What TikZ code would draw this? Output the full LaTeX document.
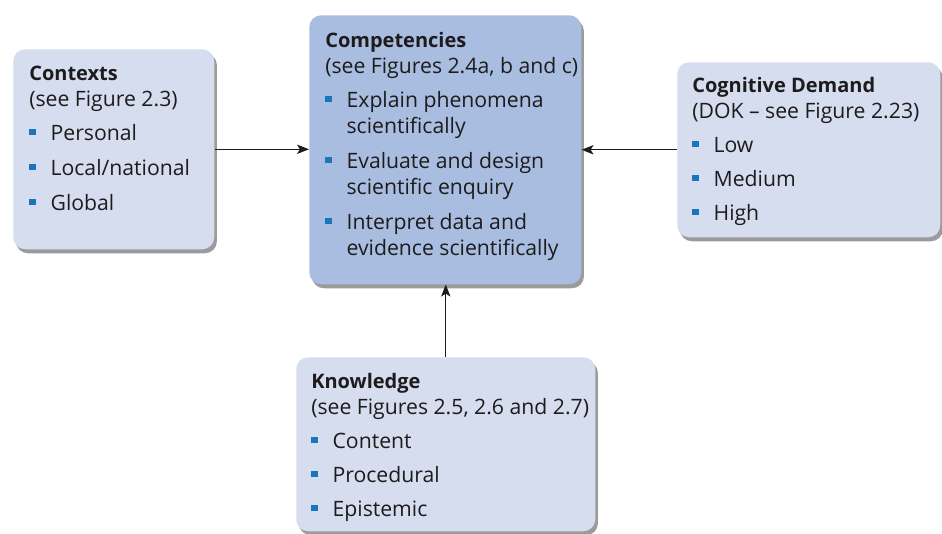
\documentclass[tikz,border=0pt]{standalone}
\usepackage{fontspec}
\setmainfont{Open Sans}
\usepackage{xcolor}
\usetikzlibrary{arrows.meta, positioning, shadows}
\definecolor{palefill}{HTML}{D5DDEF}
\definecolor{deepfill}{HTML}{A9BDE0}
\definecolor{bulletblue}{HTML}{1C75BC}
\definecolor{inkgrey}{HTML}{1E1B1C}
\newcommand{\bsq}{\textcolor{bulletblue}{\rule[3.4pt]{4.8pt}{4.8pt}}}
\newcommand{\point}{\makebox[16pt][l]{\bsq}&}
\newcommand{\heading}[2]{\multicolumn{2}{@{}l@{}}{\fontsize{15}{19.5}\selectfont\textbf{#1}}\\
    \multicolumn{2}{@{}l@{}}{#2}\\[6pt]}
\tikzset{
    panel/.style = {rounded corners=9pt, inner sep=0pt, draw=none,
        anchor=north west,
        drop shadow={shadow xshift=2pt, shadow yshift=-3pt,
            fill=black!65, opacity=0.6}},
    pale_panel/.style = {panel, fill=palefill},
    deep_panel/.style = {panel, fill=deepfill},
    blurb/.style = {anchor=base west, inner sep=0pt, text=inkgrey,
        font=\fontsize{15.9}{19.5}\selectfont},
    link/.style = {->, draw=inkgrey, line width=0.8pt},
}

\begin{document}
\begin{tikzpicture}[x=0.75pt, y=-0.75pt,
        >={Stealth[length=9pt, width=7pt, inset=2.2pt]}]
    \fill[white] (0,0) rectangle (942,533);
    \useasboundingbox (0,0) rectangle (942,533);
    % the four panels
    \node [pale_panel, minimum width=150.75pt, minimum height=150pt]
        (contexts) at (13,49) {};
    \node [deep_panel, minimum width=204pt, minimum height=201.75pt]
        (competencies) at (309,15) {};
    \node [pale_panel, minimum width=197.25pt, minimum height=131.25pt]
        (cognitive) at (677,62) {};
    \node [pale_panel, minimum width=224.25pt, minimum height=130.5pt]
        (knowledge) at (296,357) {};
    % their texts
    \node [blurb] (contexts text) at (29,80) {\begin{tabular}[t]{@{}l@{}l@{}}
        \heading{Contexts}{(see Figure 2.3)}
        \point Personal\\[6.75pt]
        \point Local/national\\[6.75pt]
        \point Global
    \end{tabular}};
    \node [blurb] (competencies text) at (325,47) {\begin{tabular}[t]{@{}l@{}l@{}}
        \heading{Competencies}{(see Figures 2.4a, b and c)}
        \point Explain phenomena\\
        & scientifically\\[6.75pt]
        \point Evaluate and design\\
        & scientific enquiry\\[6.75pt]
        \point Interpret data and\\
        & evidence scientifically
    \end{tabular}};
    \node [blurb] (cognitive text) at (692,92) {\begin{tabular}[t]{@{}l@{}l@{}}
        \heading{Cognitive Demand}{(DOK -- see Figure 2.23)}
        \point Low\\[6pt]
        \point Medium\\[6pt]
        \point High
    \end{tabular}};
    \node [blurb] (knowledge text) at (311,388) {\begin{tabular}[t]{@{}l@{}l@{}}
        \heading{Knowledge}{(see Figures 2.5, 2.6 and 2.7)}
        \point Content\\[6pt]
        \point Procedural\\[6pt]
        \point Epistemic
    \end{tabular}};
    % connectors
    \draw [link] (contexts.east) -- (contexts.east -| competencies.west);
    \draw [link] (cognitive.west) -- (cognitive.west -| competencies.east);
    \draw [link] (knowledge.north) -- (knowledge.north |- competencies.south);
\end{tikzpicture}
\end{document}
